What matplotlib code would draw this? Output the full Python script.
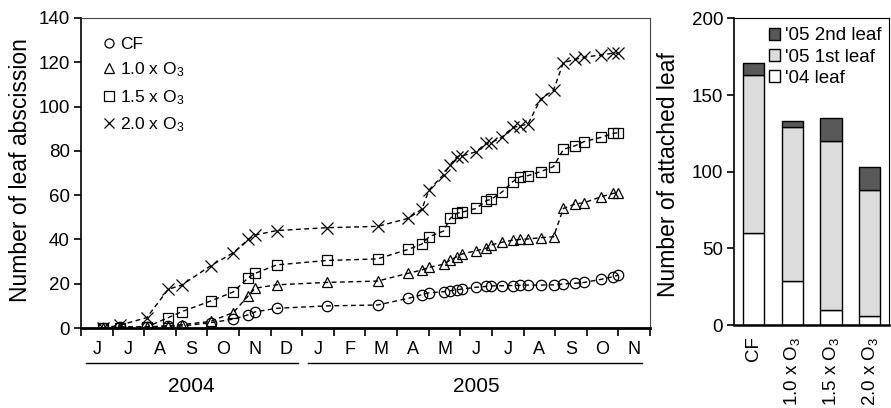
import numpy as np
import matplotlib
matplotlib.use("Agg")
import matplotlib.pyplot as plt
from matplotlib.patches import Patch
from matplotlib.lines import Line2D

plt.rcParams['font.family'] = ['Liberation Sans', 'DejaVu Sans']
plt.rcParams['mathtext.default'] = 'regular'

# sampling dates, in months since 1 Jun 2004
months = [0.70, 1.23, 2.08, 2.76, 3.19, 4.10, 4.82, 5.29, 5.51, 6.19,
          7.78, 9.38, 10.35, 10.78, 11.01, 11.47, 11.68, 11.89, 12.05,
          12.50, 12.82, 12.97, 13.31, 13.66, 13.89, 14.14, 14.54, 14.95,
          15.26, 15.63, 15.92, 16.46, 16.84, 17.00]

cf = [0, 0.5, 0.3, 0.9, 0.9, 2.4, 4, 6, 7.3, 8.9,
      10, 10.4, 13.4, 15, 15.9, 16.4, 16.8, 17.2, 17.6,
      18.4, 18.8, 19, 19.1, 19.2, 19.3, 19.4, 19.4, 19.5,
      19.9, 20.2, 20.6, 22, 23.2, 23.9]
o3_10 = [0, 0.5, 0.5, 1, 1.5, 3, 7, 14.5, 18, 19.5,
         20.6, 21.2, 24.7, 26.2, 27.4, 28.8, 30.7, 32.2, 33.4,
         34.9, 36, 37.5, 38.7, 39.7, 40, 40.2, 40.8, 41.2,
         54, 56, 56.6, 59.3, 60.8, 61.1]
o3_15 = [0, 0, 0.5, 4.7, 7.4, 12.2, 16.3, 22.7, 24.7, 28.5,
         30.5, 31.2, 35.5, 37.9, 41.2, 43.8, 49.5, 51.8, 52.3,
         54, 57.5, 58.1, 61.3, 66.1, 68.3, 68.8, 70.6, 72.9,
         80.7, 82.3, 84.2, 86.1, 87.9, 88.2]
o3_20 = [0, 1.3, 4.7, 17.5, 19.4, 28.1, 34, 40, 42, 44,
         45.3, 45.9, 49.5, 53.6, 62.3, 69.3, 73.6, 77.4, 77.7,
         79.6, 83.4, 83.7, 86.1, 90.6, 91.2, 92.1, 103.3, 107.5,
         119.8, 121.3, 122.3, 123.3, 124.1, 124.1]

month_labels = ['J', 'J', 'A', 'S', 'O', 'N', 'D',
                'J', 'F', 'M', 'A', 'M', 'J', 'J', 'A', 'S', 'O', 'N']

# attached leaves (right panel)
groups = ['CF', '1.0 x O$_3$', '1.5 x O$_3$', '2.0 x O$_3$']
leaf04 = [60, 29, 10, 6]
leaf05_1st = [103, 100, 110, 82]
leaf05_2nd = [8, 4, 15, 15]

fig = plt.figure(figsize=(8.91, 4.08), dpi=100)
ax = fig.add_axes([0.0909, 0.196, 0.6386, 0.76])
ax2 = fig.add_axes([0.824, 0.203, 0.174, 0.752])

series = [(cf, 'o', 'CF'), (o3_10, '^', '1.0 x O$_3$'),
          (o3_15, 's', '1.5 x O$_3$'), (o3_20, 'x', '2.0 x O$_3$')]
handles = []
for vals, m, lab in series:
    ax.plot(months, vals, color='black', lw=1.0, dashes=(3.5, 2.5),
            marker=m, ms=7.5 if m != 'x' else 8, mfc='none', mec='black',
            mew=0.9, zorder=3)
    handles.append(Line2D([], [], ls='none', marker=m, ms=6.5,
                          mfc='none', mec='black', mew=0.9, label=lab))

ax.set_xlim(0, 18)
ax.set_ylim(0, 140)
ax.set_yticks(range(0, 141, 20))
ax.set_xticks(range(0, 19))
ax.set_xticklabels([])
ax.set_xticks(np.arange(18) + 0.5, minor=True)
ax.set_xticklabels(month_labels, minor=True)
ax.tick_params(axis='x', which='major', direction='out', length=6, width=1.2)
ax.tick_params(axis='x', which='minor', length=0, pad=9, labelsize=13)
ax.tick_params(axis='y', direction='out', length=5, width=1.2, labelsize=13.5, pad=3)
ax.set_ylabel('Number of leaf abscission', fontsize=16.5)
ax.yaxis.set_label_coords(-0.086, 0.51)
for s in ['top', 'right']:
    ax.spines[s].set_linewidth(0.8)
    ax.spines[s].set_color('#444444')
ax.spines['left'].set_linewidth(1.2)
ax.spines['bottom'].set_linewidth(2.0)
ax.spines['bottom'].set_zorder(4)

tr = ax.get_xaxis_transform()
ax.plot([0.16, 6.87], [-0.113, -0.113], transform=tr, color='black', lw=1.0, clip_on=False)
ax.plot([7.18, 17.75], [-0.113, -0.113], transform=tr, color='black', lw=1.0, clip_on=False)
ax.text(3.5, -0.19, '2004', transform=tr, ha='center', va='center', fontsize=15)
ax.text(12.5, -0.19, '2005', transform=tr, ha='center', va='center', fontsize=15)

ax.legend(handles=handles, loc='upper left', frameon=False, fontsize=12.5,
          handlelength=0.6, handletextpad=0.35, labelspacing=0.5,
          borderaxespad=0.0, bbox_to_anchor=(0.028, 0.962))

# right panel: stacked bars
x = np.arange(len(groups))
bottom2 = np.array(leaf04) + np.array(leaf05_1st)
ax2.bar(x, leaf04, width=0.55, color='white', edgecolor='black', lw=1.0)
ax2.bar(x, leaf05_1st, bottom=leaf04, width=0.55, color='#dcdcdc', edgecolor='black', lw=1.0)
ax2.bar(x, leaf05_2nd, bottom=bottom2, width=0.55, color='#595959', edgecolor='black', lw=1.0)
ax2.set_xlim(-0.5, 3.5)
ax2.set_ylim(0, 200)
ax2.set_yticks([0, 50, 100, 150, 200])
ax2.set_xticks(x)
ax2.set_xticklabels(groups, rotation=90, fontsize=13.5)
ax2.tick_params(axis='x', length=0, pad=8)
ax2.tick_params(axis='y', direction='out', length=5, width=1.2, labelsize=13.5, pad=3)
ax2.set_ylabel('Number of attached leaf', fontsize=16.5)
ax2.yaxis.set_label_coords(-0.35, 0.49)
for s in ['top', 'right']:
    ax2.spines[s].set_linewidth(0.8)
ax2.spines['left'].set_linewidth(1.2)
ax2.spines['bottom'].set_linewidth(1.8)

leg_h = [Patch(facecolor='#595959', edgecolor='black', label="'05 2nd leaf"),
         Patch(facecolor='#dcdcdc', edgecolor='black', label="'05 1st leaf"),
         Patch(facecolor='white', edgecolor='black', label="'04 leaf")]
ax2.legend(handles=leg_h, loc='upper right', frameon=False, fontsize=13.5,
           handlelength=0.6, handleheight=0.6, handletextpad=0.25,
           labelspacing=0.22, borderaxespad=0.0, bbox_to_anchor=(1.0, 0.995))

fig.savefig('out.png', dpi=100)
